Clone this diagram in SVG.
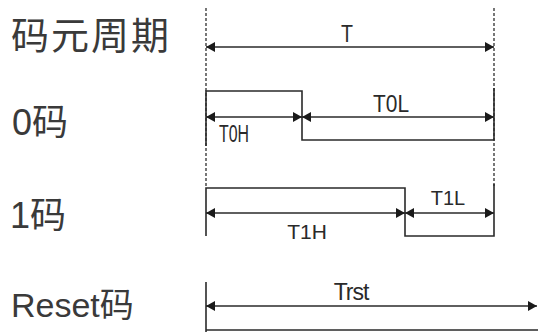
<svg xmlns="http://www.w3.org/2000/svg" width="538" height="332" viewBox="0 0 538 332">
<defs>
<marker id="ah" viewBox="0 0 9 10" refX="9" refY="5" markerWidth="9" markerHeight="10" markerUnits="userSpaceOnUse" orient="auto-start-reverse">
<path d="M0,0 L9,5 L0,10 z" fill="#1a1a1a"/>
</marker>
</defs>
<style>
.lbl{font-family:"Liberation Sans","Noto Sans CJK SC",sans-serif;fill:#3a3a3a}
.cjk{font-family:"Noto Sans CJK SC",sans-serif;fill:#3a3a3a}
.t{font-family:"Liberation Sans",Arial,sans-serif;fill:#2a2a2a}
.ln{stroke:#2a2a2a;stroke-width:1.6;fill:none}
.ds{stroke:#555;stroke-width:1.6;stroke-dasharray:3 2;fill:none}
.ar{stroke:#2a2a2a;stroke-width:1.6;fill:none;marker-start:url(#ah);marker-end:url(#ah)}
</style>
<rect width="538" height="332" fill="#fff"/>
<g id="labels">
<text class="cjk" x="11" y="49" font-size="38" letter-spacing="2">码元周期</text>
<text class="lbl" x="12" y="135" font-size="36">0码</text>
<text class="lbl" x="10" y="228" font-size="36">1码</text>
<text class="lbl" x="11" y="317" font-size="34">Reset码</text>
</g>
<g id="guides">
<line class="ds" x1="206" y1="8" x2="206" y2="188"/>
<line class="ds" x1="494" y1="8" x2="494" y2="188"/>
</g>
<g id="period">
<line class="ar" x1="206" y1="47" x2="494" y2="47"/>
<text class="t" x="347" y="42" font-size="24" text-anchor="middle" textLength="12" lengthAdjust="spacingAndGlyphs">T</text>
</g>
<g id="code0">
<polyline class="ln" points="206,146 206,91 302,91 302,140 494,140 494,88"/>
<line class="ar" x1="206" y1="117" x2="302" y2="117"/>
<line class="ar" x1="302" y1="117" x2="494" y2="117"/>
<text class="t" x="219" y="142" font-size="23" textLength="30" lengthAdjust="spacingAndGlyphs">T0H</text>
<text class="t" x="373" y="112" font-size="23" textLength="36" lengthAdjust="spacingAndGlyphs">T0L</text>
</g>
<g id="code1">
<polyline class="ln" points="206,236 206,188 405,188 405,236 494,236 494,184"/>
<line class="ar" x1="206" y1="213" x2="405" y2="213"/>
<line class="ar" x1="405" y1="213" x2="494" y2="213"/>
<text class="t" x="307" y="239" font-size="21" text-anchor="middle">T1H</text>
<text class="t" x="448" y="205" font-size="20" text-anchor="middle">T1L</text>
</g>
<g id="reset">
<line class="ln" x1="206" y1="282" x2="206" y2="332"/>
<line class="ln" x1="206" y1="330" x2="538" y2="330"/>
<line class="ar" x1="206" y1="306" x2="537" y2="306"/>
<text class="t" x="351" y="300" font-size="23" text-anchor="middle" letter-spacing="-1">Trst</text>
</g>
</svg>
